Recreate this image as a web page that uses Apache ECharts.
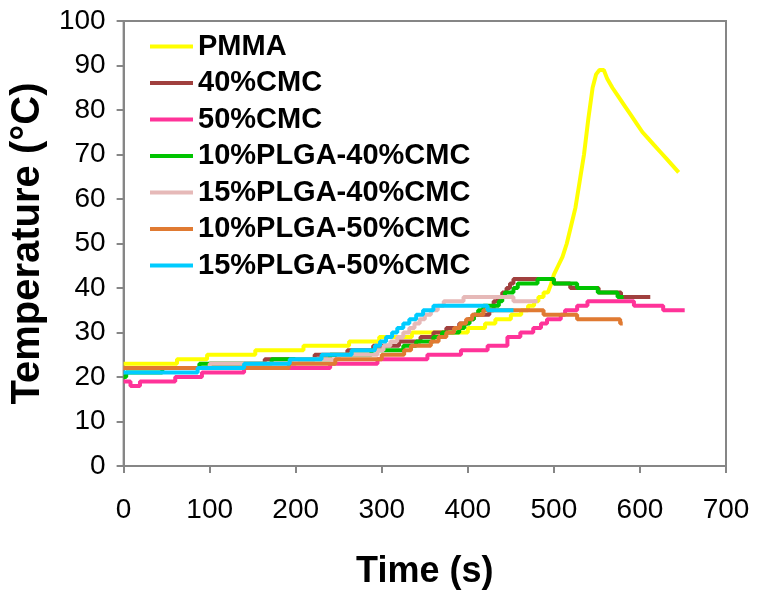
<!DOCTYPE html>
<html>
<head>
<meta charset="utf-8">
<script src="https://cdn.jsdelivr.net/npm/echarts@6/dist/echarts.min.js"></script>
<style>html,body{margin:0;padding:0;background:#fff;}#c{width:759px;height:596px;}</style>
</head>
<body>
<div id="c"></div>
<script>
var seriesNames = ['PMMA','40%CMC','50%CMC','10%PLGA-40%CMC','15%PLGA-40%CMC','10%PLGA-50%CMC','15%PLGA-50%CMC'];
var xTicks = [0,100,200,300,400,500,600,700];
var yTicks = [0,10,20,30,40,50,60,70,80,90,100];

// PMMA (explicit points, repeated times mark jumps)
var pmmaTime = [0,62,62,97,97,153,153,209,209,262,262,297,297,335,335,400,400,420,420,432,432,450,450,462,462,470,470,477,477,482,482,488,488,493,497,500,505,510,515,520,525,530,535,540,545,549,553,558,562,568,575,582,589,596,603,610,617,624,631,638,645];
var pmmaTemp = [23,23,24,24,25,25,26,26,27,27,28,28,29,29,30,30,31,31,32,32,33,33,34,34,35,35,36,36,37,37,38,38,39,39,41,43,45,47,50,54,58,64,70,78,85,88,89,89,87,85,83,81,79,77,75,73.5,72,70.5,69,67.5,66];

// Step series: start time of each level, level value; last entry is the end point
var cmc40Time = [0,100,164,222,260,290,320,345,360,375,390,400,407,425,430,435,440,445,449,453,500,519,552,578,612];
var cmc40Temp = [22,23,24,25,26,27,28,29,30,31,32,33,34,35,37,38,39,40,41,42,41,40,39,38,38];

var cmc50Time = [0,8,19,60,91,140,240,295,353,392,423,446,461,476,485,492,508,513,527,539,593,627,652];
var cmc50Temp = [19,18,19,20,21,22,23,24,25,26,27,29,30,31,32,33,34,35,36,37,36,35,35];

var p10c40Time = [0,3,45,88,172,240,288,325,340,360,370,390,396,402,407,412,418,436,440,443,453,458,481,500,527,551,574,581];
var p10c40Temp = [20,21,22,23,24,25,26,27,28,29,30,31,32,33,34,35,36,37,38,39,40,41,42,41,40,39,38,38];

var p15c40Time = [0,100,200,250,295,302,310,318,325,332,338,344,350,357,365,372,395,453,481];
var p15c40Temp = [22,23,24,25,26,27,28,29,30,31,32,33,34,35,36,37,38,37,37];

var p10c50Time = [0,192,246,300,326,334,357,366,375,384,391,398,405,418,488,527,577,580];
var p10c50Temp = [22,23,24,25,26,27,28,29,30,31,32,33,34,35,34,33,32,32];

var p15c50Time = [0,86,140,193,230,265,292,298,305,312,318,325,332,340,348,360,423,453];
var p15c50Temp = [21,22,23,24,25,26,27,28,29,30,31,32,33,34,35,36,35,35];

var colors = ['#FFFF00','#A0403E','#FF3399','#00C400','#E6B9B8','#E07A32','#00CCFF'];

function zip(t, v){ var o=[]; for (var i=0;i<t.length;i++) o.push([t[i], v[i]]); return o; }

var stepData = [zip(cmc40Time,cmc40Temp), zip(cmc50Time,cmc50Temp), zip(p10c40Time,p10c40Temp), zip(p15c40Time,p15c40Temp), zip(p10c50Time,p10c50Temp), zip(p15c50Time,p15c50Temp)];

var FONT = '"Liberation Sans", Arial, sans-serif';
var series = [{
  name: seriesNames[0], type: 'line', data: zip(pmmaTime, pmmaTemp),
  showSymbol: false, symbol: 'none', lineStyle: {color: colors[0], width: 4}, itemStyle:{color: colors[0]}, animation: false
}];
for (var i=0;i<stepData.length;i++){
  series.push({
    name: seriesNames[i+1], type: 'line', step: 'end', data: stepData[i],
    showSymbol: false, symbol: 'none', lineStyle: {color: colors[i+1], width: 4}, itemStyle:{color: colors[i+1]}, animation: false
  });
}

var chart = echarts.init(document.getElementById('c'));
chart.setOption({
  animation: false,
  color: colors,
  grid: {left: 121, right: 33, top: 21, bottom: 130, show: true, borderColor: '#868686', borderWidth: 2},
  legend: {
    orient: 'vertical', left: 150, top: 32, padding: 0, icon: 'rect', itemWidth: 43, itemHeight: 4, itemGap: 7.5,
    data: seriesNames,
    textStyle: {fontFamily: FONT, fontWeight: 'bold', fontSize: 29, color: '#000', lineHeight: 29}
  },
  xAxis: {
    type: 'value', min: xTicks[0], max: xTicks[xTicks.length-1], interval: 100,
    name: 'Time (s)', nameLocation: 'middle', nameGap: 88,
    nameTextStyle: {fontFamily: FONT, fontWeight: 'bold', fontSize: 36, color: '#000'},
    axisLine: {show: true, lineStyle: {color: '#868686', width: 2}},
    axisTick: {show: true, inside: false, length: 7, lineStyle: {color: '#868686', width: 2}},
    axisLabel: {fontFamily: FONT, fontSize: 28, color: '#000', margin: 30},
    splitLine: {show: false}
  },
  yAxis: {
    type: 'value', min: yTicks[0], max: yTicks[yTicks.length-1], interval: 10,
    name: 'Temperature (°C)', nameLocation: 'middle', nameGap: 64,
    nameTextStyle: {fontFamily: FONT, fontWeight: 'bold', fontSize: 40, color: '#000'},
    axisLine: {show: true, lineStyle: {color: '#868686', width: 2}},
    axisTick: {show: true, inside: false, length: 7, lineStyle: {color: '#868686', width: 2}},
    axisLabel: {fontFamily: FONT, fontSize: 28, color: '#000', margin: 18},
    splitLine: {show: false}
  },
  series: series
});
</script>
</body>
</html>
